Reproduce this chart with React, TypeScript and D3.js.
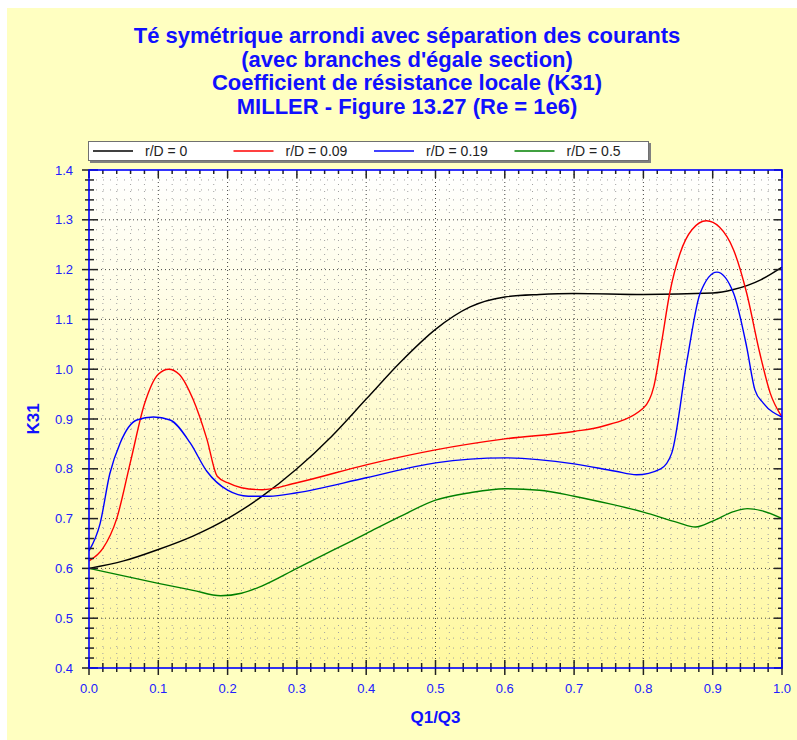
import React from 'react'
import * as d3 from 'd3'

// Q1/Q3 values and K31 readings for each r/D curve
const blackX = [0, 0.05, 0.1, 0.15, 0.2, 0.25, 0.3, 0.35, 0.4, 0.45, 0.5, 0.55, 0.6, 0.65, 0.7, 0.8, 0.9, 0.93, 0.97, 1.0]
const blackY = [0.6, 0.615, 0.638, 0.665, 0.7, 0.745, 0.8, 0.865, 0.94, 1.015, 1.08, 1.125, 1.145, 1.15, 1.152, 1.15, 1.153, 1.16, 1.18, 1.205]

const redX = [0, 0.02, 0.04, 0.06, 0.08, 0.1, 0.115, 0.13, 0.15, 0.17, 0.185, 0.2, 0.22, 0.25, 0.3, 0.4, 0.5, 0.6, 0.7, 0.74, 0.8, 0.815, 0.826, 0.838, 0.853, 0.87, 0.891, 0.91, 0.93, 0.949, 0.968, 0.983, 1.0]
const redY = [0.615, 0.64, 0.7, 0.815, 0.93, 0.99, 1.0, 0.99, 0.94, 0.86, 0.785, 0.772, 0.762, 0.758, 0.772, 0.808, 0.838, 0.86, 0.875, 0.885, 0.922, 0.965, 1.052, 1.153, 1.233, 1.28, 1.298, 1.285, 1.24, 1.153, 1.032, 0.952, 0.904]

const blueX = [0, 0.016, 0.03, 0.045, 0.069, 0.093, 0.117, 0.146, 0.17, 0.2, 0.23, 0.26, 0.3, 0.4, 0.5, 0.6, 0.7, 0.76, 0.79, 0.825, 0.841, 0.863, 0.882, 0.906, 0.93, 0.949, 0.961, 0.973, 1.0]
const blueY = [0.635, 0.69, 0.79, 0.852, 0.898, 0.904, 0.898, 0.852, 0.795, 0.757, 0.745, 0.745, 0.752, 0.782, 0.812, 0.822, 0.81, 0.795, 0.788, 0.8, 0.832, 1.018, 1.153, 1.195, 1.153, 1.045, 0.958, 0.932, 0.904]

const greenX = [0, 0.05, 0.1, 0.15, 0.19, 0.22, 0.25, 0.3, 0.35, 0.4, 0.45, 0.5, 0.55, 0.6, 0.65, 0.7, 0.75, 0.8, 0.85, 0.875, 0.9, 0.93, 0.95, 0.97, 1.0]
const greenY = [0.6, 0.585, 0.57, 0.556, 0.545, 0.55, 0.565, 0.6, 0.635, 0.67, 0.705, 0.737, 0.752, 0.76, 0.757, 0.745, 0.73, 0.713, 0.692, 0.683, 0.695, 0.714, 0.72, 0.716, 0.7]

const seriesNames = ['r/D = 0', 'r/D = 0.09', 'r/D = 0.19', 'r/D = 0.5']
const seriesColors = ['#000000', '#ff0000', '#0000ff', '#008000']
const seriesX = [blackX, redX, blueX, greenX]
const seriesY = [blackY, redY, blueY, greenY]

const titleLines = [
  'Té symétrique arrondi avec séparation des courants',
  "(avec branches d'égale section)",
  'Coefficient de résistance locale (K31)',
  'MILLER - Figure 13.27 (Re = 1e6)',
]

const W = 797
const H = 740
const margin = { top: 170, right: 15, bottom: 72, left: 89 }

export default function App() {
  const x = d3.scaleLinear().domain([0, 1]).range([margin.left, W - margin.right])
  const y = d3.scaleLinear().domain([0.4, 1.4]).range([H - margin.bottom, margin.top])
  const [x0, x1] = x.range()
  const [y0, y1] = y.range()

  const majorX = d3.range(0, 11).map((i) => i / 10)
  const minorX = d3.range(0, 51).map((i) => i / 50).filter((_, i) => i % 5 !== 0)
  const majorY = d3.range(0, 11).map((i) => 0.4 + i / 10)
  const minorY = d3.range(0, 51).map((i) => 0.4 + i / 50).filter((_, i) => i % 5 !== 0)
  const fmt = d3.format('.1f')

  const line = d3
    .line<[number, number]>()
    .x((d) => x(d[0]))
    .y((d) => y(d[1]))
    .curve(d3.curveMonotoneX)

  const font = 'Arial, "Liberation Sans", sans-serif'
  const blue = '#2020ff'

  return (
    <svg width={W} height={H} style={{ position: 'absolute', left: 0, top: 0 }}>
      <defs>
        <linearGradient id="plotBg" x1="0" y1="0" x2="0" y2="1">
          <stop offset="0%" stopColor="#ffffff" />
          <stop offset="100%" stopColor="#fff8a0" />
        </linearGradient>
        <clipPath id="plotClip">
          <rect x={x0} y={y1} width={x1 - x0} height={y0 - y1} />
        </clipPath>
      </defs>
      <rect x={7} y={8} width={W - 7} height={H - 8} fill="#ffffc1" />

      {/* title */}
      {titleLines.map((t, i) => (
        <text
          key={i}
          x={407}
          y={43 + i * 23.7}
          textAnchor="middle"
          fontFamily={font}
          fontWeight="bold"
          fontSize={22}
          fill="#1010ff"
        >
          {t}
        </text>
      ))}

      {/* legend */}
      <rect x={90} y={143} width={561} height={20} fill="#808080" />
      <rect x={88.5} y={141.5} width={560} height={19} fill="#ffffff" stroke="#707070" />
      {seriesNames.map((name, i) => (
        <g key={name} transform={`translate(${93 + i * 140.5},151)`}>
          <line x1={0} x2={40} y1={0} y2={0} stroke={seriesColors[i]} strokeWidth={1.3} />
          <text x={52} y={5} fontFamily={font} fontSize={14} fill="#222">
            {name}
          </text>
        </g>
      ))}

      {/* plot background */}
      <rect x={x0} y={y1} width={x1 - x0} height={y0 - y1} fill="url(#plotBg)" />

      {/* minor grid */}
      <g stroke="#a0a0a0" strokeWidth={1} strokeDasharray="1 6">
        {minorX.map((v) => (
          <line key={'mx' + v} x1={x(v)} x2={x(v)} y1={y1} y2={y0} />
        ))}
        {minorY.map((v) => (
          <line key={'my' + v} x1={x0} x2={x1} y1={y(v)} y2={y(v)} />
        ))}
      </g>
      {/* major grid */}
      <g stroke="#444" strokeWidth={1} strokeDasharray="1 3">
        {majorX.slice(1, -1).map((v) => (
          <line key={'gx' + v} x1={x(v)} x2={x(v)} y1={y1} y2={y0} />
        ))}
        {majorY.slice(1, -1).map((v) => (
          <line key={'gy' + v} x1={x0} x2={x1} y1={y(v)} y2={y(v)} />
        ))}
      </g>

      {/* curves */}
      <g clipPath="url(#plotClip)" fill="none">
        {seriesX.map((xs, i) => (
          <path
            key={i}
            d={line(xs.map((v, j) => [v, seriesY[i][j]] as [number, number])) || ''}
            stroke={seriesColors[i]}
            strokeWidth={1.4}
          />
        ))}
      </g>

      {/* ticks */}
      <g stroke="#222" strokeWidth={1.5}>
        {majorX.map((v) => (
          <g key={'tx' + v}>
            <line x1={x(v)} x2={x(v)} y1={y0 - 8} y2={y0 + 7} />
            <line x1={x(v)} x2={x(v)} y1={y1} y2={y1 + 8} />
          </g>
        ))}
        {minorX.map((v) => (
          <g key={'tmx' + v}>
            <line x1={x(v)} x2={x(v)} y1={y0 - 5} y2={y0 + 4} />
            <line x1={x(v)} x2={x(v)} y1={y1} y2={y1 + 4} />
          </g>
        ))}
        {majorY.map((v) => (
          <g key={'ty' + v}>
            <line x1={x0 - 7} x2={x0 + 9} y1={y(v)} y2={y(v)} />
            <line x1={x1 - 8} x2={x1} y1={y(v)} y2={y(v)} />
          </g>
        ))}
        {minorY.map((v) => (
          <g key={'tmy' + v}>
            <line x1={x0 - 4} x2={x0 + 5} y1={y(v)} y2={y(v)} />
            <line x1={x1 - 4} x2={x1} y1={y(v)} y2={y(v)} />
          </g>
        ))}
      </g>

      {/* frame */}
      <rect x={x0} y={y1} width={x1 - x0} height={y0 - y1} fill="none" stroke="#0000ff" strokeWidth={1.6} />

      {/* tick labels */}
      {majorX.map((v) => (
        <text key={'lx' + v} x={x(v)} y={y0 + 25} textAnchor="middle" fontFamily={font} fontSize={13} fill={blue}>
          {fmt(v)}
        </text>
      ))}
      {majorY.map((v) => (
        <text key={'ly' + v} x={x0 - 16} y={y(v) + 4.5} textAnchor="end" fontFamily={font} fontSize={13} fill={blue}>
          {fmt(v)}
        </text>
      ))}

      {/* axis titles */}
      <text x={(x0 + x1) / 2} y={723} textAnchor="middle" fontFamily={font} fontWeight="bold" fontSize={17} fill="#1010ff">
        Q1/Q3
      </text>
      <text
        transform={`translate(39,${(y0 + y1) / 2}) rotate(-90)`}
        textAnchor="middle"
        fontFamily={font}
        fontWeight="bold"
        fontSize={17}
        fill="#1010ff"
      >
        K31
      </text>
    </svg>
  )
}
